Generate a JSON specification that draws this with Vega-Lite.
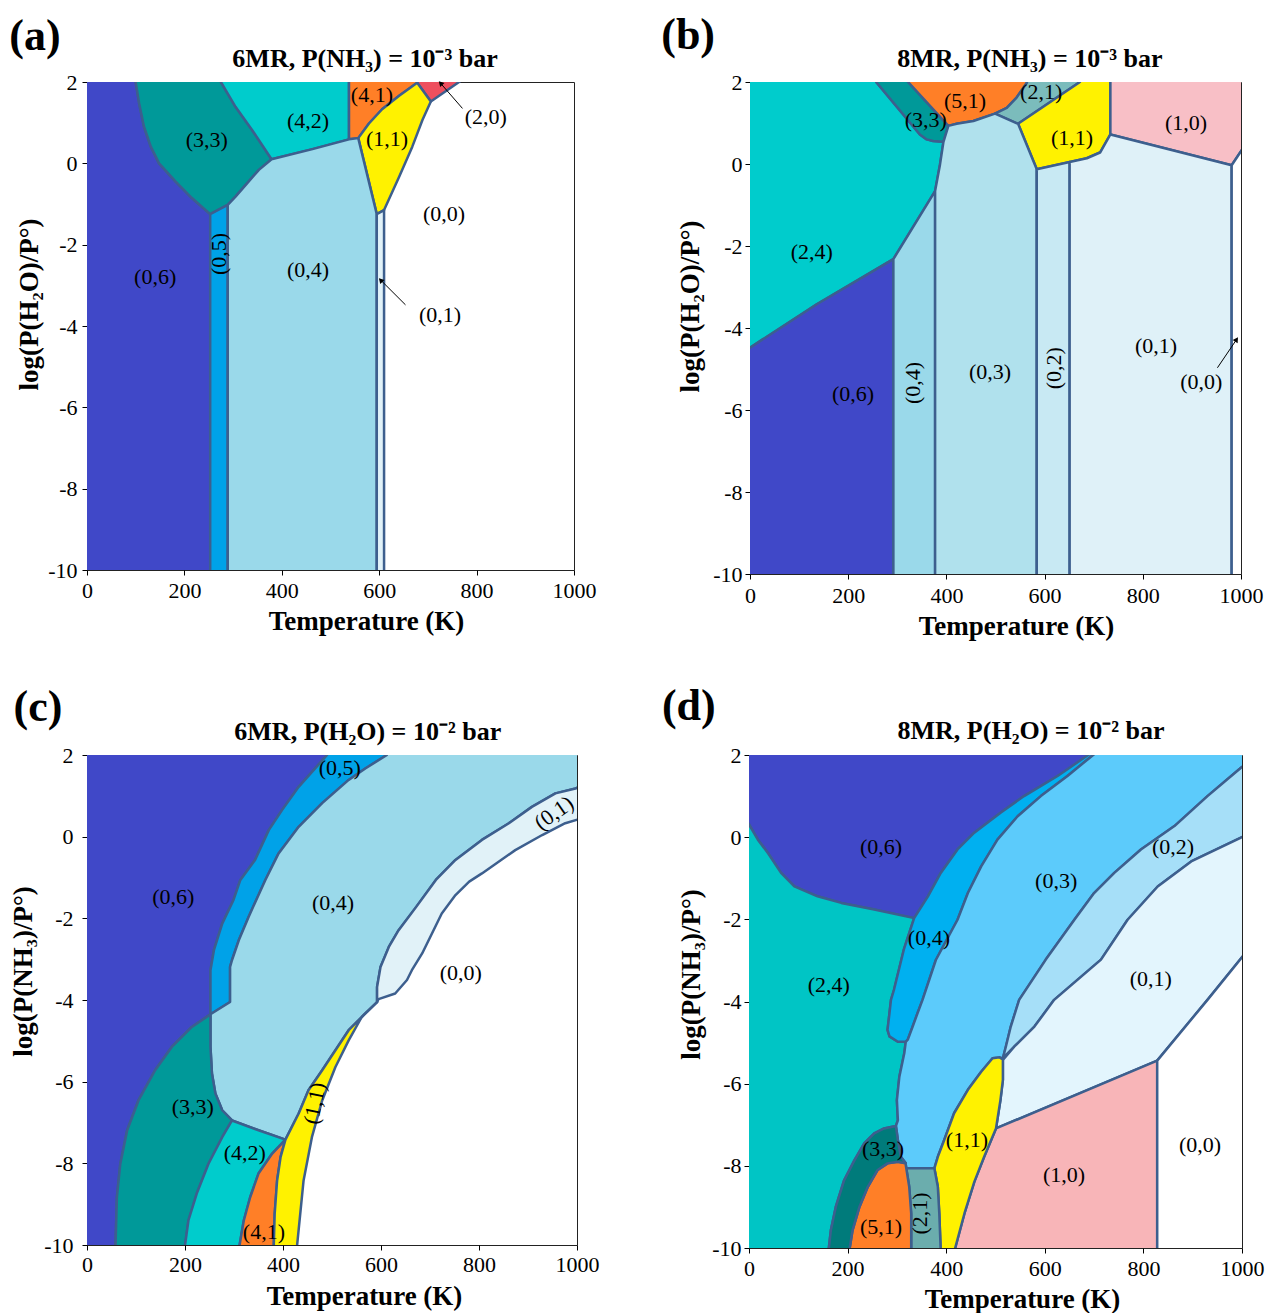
{
"$schema":"https://vega.github.io/schema/vega-lite/v6.json",
"padding":{"left":8,"top":13,"right":5,"bottom":0},
"config":{"font":"Liberation Serif","view":{"stroke":"#222","strokeWidth":1},
"axis":{"labelFont":"Liberation Serif","labelFontSize":22,"labelColor":"#000","titleFont":"Liberation Serif","titleFontSize":27,"titleFontWeight":"bold","titleColor":"#000","grid":false,"domain":false,"tickColor":"#000","tickSize":5,"labelFlush":false,"labelOverlap":false},
"text":{"font":"Liberation Serif","color":"#000"}},
"datasets":{
"pa":[
{"ph":"(0,6)","x":-5,"y":2.1},{"ph":"(0,6)","x":100,"y":2.1},{"ph":"(0,6)","x":100,"y":1.99},{"ph":"(0,6)","x":107,"y":1.48},{"ph":"(0,6)","x":117,"y":0.9},{"ph":"(0,6)","x":131,"y":0.41},{"ph":"(0,6)","x":148,"y":0},{"ph":"(0,6)","x":182,"y":-0.45},{"ph":"(0,6)","x":216,"y":-0.86},{"ph":"(0,6)","x":253,"y":-1.25},{"ph":"(0,6)","x":253,"y":-10.1},{"ph":"(0,6)","x":-5,"y":-10.1},
{"ph":"(3,3)","x":100,"y":2.1},{"ph":"(3,3)","x":275,"y":2.1},{"ph":"(3,3)","x":275,"y":2},{"ph":"(3,3)","x":305,"y":1.39},{"ph":"(3,3)","x":339,"y":0.82},{"ph":"(3,3)","x":379,"y":0.1},{"ph":"(3,3)","x":353,"y":-0.16},{"ph":"(3,3)","x":326,"y":-0.53},{"ph":"(3,3)","x":305,"y":-0.82},{"ph":"(3,3)","x":289,"y":-1.02},{"ph":"(3,3)","x":253,"y":-1.25},{"ph":"(3,3)","x":216,"y":-0.86},{"ph":"(3,3)","x":182,"y":-0.45},{"ph":"(3,3)","x":148,"y":0},{"ph":"(3,3)","x":131,"y":0.41},{"ph":"(3,3)","x":117,"y":0.9},{"ph":"(3,3)","x":107,"y":1.48},{"ph":"(3,3)","x":100,"y":1.99},
{"ph":"(4,2)","x":275,"y":2.1},{"ph":"(4,2)","x":538,"y":2.1},{"ph":"(4,2)","x":538,"y":0.59},{"ph":"(4,2)","x":463,"y":0.35},{"ph":"(4,2)","x":379,"y":0.1},{"ph":"(4,2)","x":339,"y":0.82},{"ph":"(4,2)","x":305,"y":1.39},{"ph":"(4,2)","x":275,"y":2},
{"ph":"(4,1)","x":538,"y":2.1},{"ph":"(4,1)","x":681,"y":2.1},{"ph":"(4,1)","x":678,"y":1.98},{"ph":"(4,1)","x":641,"y":1.66},{"ph":"(4,1)","x":606,"y":1.33},{"ph":"(4,1)","x":579,"y":0.98},{"ph":"(4,1)","x":557,"y":0.62},{"ph":"(4,1)","x":538,"y":0.59},
{"ph":"(2,0)","x":681,"y":2.1},{"ph":"(2,0)","x":776,"y":2.1},{"ph":"(2,0)","x":764,"y":2},{"ph":"(2,0)","x":706,"y":1.52},{"ph":"(2,0)","x":678,"y":1.98},
{"ph":"(1,1)","x":557,"y":0.62},{"ph":"(1,1)","x":579,"y":0.98},{"ph":"(1,1)","x":606,"y":1.33},{"ph":"(1,1)","x":641,"y":1.66},{"ph":"(1,1)","x":678,"y":1.98},{"ph":"(1,1)","x":706,"y":1.52},{"ph":"(1,1)","x":689,"y":1.07},{"ph":"(1,1)","x":668,"y":0.41},{"ph":"(1,1)","x":641,"y":-0.33},{"ph":"(1,1)","x":610,"y":-1.15},{"ph":"(1,1)","x":595,"y":-1.25},
{"ph":"(0,5)","x":253,"y":-1.25},{"ph":"(0,5)","x":289,"y":-1.02},{"ph":"(0,5)","x":289,"y":-10.1},{"ph":"(0,5)","x":253,"y":-10.1},
{"ph":"(0,4)","x":289,"y":-1.02},{"ph":"(0,4)","x":305,"y":-0.82},{"ph":"(0,4)","x":326,"y":-0.53},{"ph":"(0,4)","x":353,"y":-0.16},{"ph":"(0,4)","x":379,"y":0.1},{"ph":"(0,4)","x":463,"y":0.35},{"ph":"(0,4)","x":538,"y":0.59},{"ph":"(0,4)","x":557,"y":0.62},{"ph":"(0,4)","x":595,"y":-1.25},{"ph":"(0,4)","x":595,"y":-10.1},{"ph":"(0,4)","x":289,"y":-10.1},
{"ph":"(0,1)","x":595,"y":-10.1},{"ph":"(0,1)","x":595,"y":-1.25},{"ph":"(0,1)","x":610,"y":-1.15},{"ph":"(0,1)","x":610,"y":-10.1}
],
"pb":[
{"ph":"(2,4)","x":-5,"y":2.1},{"ph":"(2,4)","x":257,"y":2.1},{"ph":"(2,4)","x":257,"y":2},{"ph":"(2,4)","x":346,"y":0.72},{"ph":"(2,4)","x":360,"y":0.6},{"ph":"(2,4)","x":373,"y":0.56},{"ph":"(2,4)","x":394,"y":0.54},{"ph":"(2,4)","x":387,"y":-0.01},{"ph":"(2,4)","x":377,"y":-0.66},{"ph":"(2,4)","x":292,"y":-2.32},{"ph":"(2,4)","x":136,"y":-3.42},{"ph":"(2,4)","x":0,"y":-4.48},{"ph":"(2,4)","x":-5,"y":-4.52},
{"ph":"(3,3)","x":257,"y":2.1},{"ph":"(3,3)","x":322,"y":2.1},{"ph":"(3,3)","x":322,"y":2},{"ph":"(3,3)","x":404,"y":0.93},{"ph":"(3,3)","x":394,"y":0.54},{"ph":"(3,3)","x":373,"y":0.56},{"ph":"(3,3)","x":360,"y":0.6},{"ph":"(3,3)","x":346,"y":0.72},{"ph":"(3,3)","x":257,"y":2},
{"ph":"(5,1)","x":322,"y":2.1},{"ph":"(5,1)","x":564,"y":2.1},{"ph":"(5,1)","x":564,"y":1.98},{"ph":"(5,1)","x":543,"y":1.62},{"ph":"(5,1)","x":523,"y":1.37},{"ph":"(5,1)","x":499,"y":1.23},{"ph":"(5,1)","x":455,"y":1.05},{"ph":"(5,1)","x":421,"y":0.98},{"ph":"(5,1)","x":404,"y":0.93},{"ph":"(5,1)","x":322,"y":2},
{"ph":"(2,1)","x":564,"y":2.1},{"ph":"(2,1)","x":672,"y":2.1},{"ph":"(2,1)","x":672,"y":2},{"ph":"(2,1)","x":546,"y":0.98},{"ph":"(2,1)","x":499,"y":1.23},{"ph":"(2,1)","x":523,"y":1.37},{"ph":"(2,1)","x":543,"y":1.62},{"ph":"(2,1)","x":564,"y":1.98},
{"ph":"(1,1)","x":672,"y":2.1},{"ph":"(1,1)","x":734,"y":2.1},{"ph":"(1,1)","x":734,"y":0.72},{"ph":"(1,1)","x":713,"y":0.28},{"ph":"(1,1)","x":686,"y":0.14},{"ph":"(1,1)","x":652,"y":0.05},{"ph":"(1,1)","x":584,"y":-0.13},{"ph":"(1,1)","x":546,"y":0.98},{"ph":"(1,1)","x":672,"y":2},
{"ph":"(1,0)","x":734,"y":2.1},{"ph":"(1,0)","x":1005,"y":2.1},{"ph":"(1,0)","x":1005,"y":0.4},{"ph":"(1,0)","x":981,"y":-0.03},{"ph":"(1,0)","x":734,"y":0.72},
{"ph":"(0,6)","x":-5,"y":-4.52},{"ph":"(0,6)","x":0,"y":-4.48},{"ph":"(0,6)","x":136,"y":-3.42},{"ph":"(0,6)","x":292,"y":-2.32},{"ph":"(0,6)","x":292,"y":-10.1},{"ph":"(0,6)","x":-5,"y":-10.1},
{"ph":"(0,4)","x":292,"y":-10.1},{"ph":"(0,4)","x":292,"y":-2.32},{"ph":"(0,4)","x":377,"y":-0.66},{"ph":"(0,4)","x":377,"y":-10.1},
{"ph":"(0,3)","x":377,"y":-10.1},{"ph":"(0,3)","x":377,"y":-0.66},{"ph":"(0,3)","x":387,"y":-0.01},{"ph":"(0,3)","x":394,"y":0.54},{"ph":"(0,3)","x":404,"y":0.93},{"ph":"(0,3)","x":421,"y":0.98},{"ph":"(0,3)","x":455,"y":1.05},{"ph":"(0,3)","x":499,"y":1.23},{"ph":"(0,3)","x":546,"y":0.98},{"ph":"(0,3)","x":584,"y":-0.13},{"ph":"(0,3)","x":584,"y":-10.1},
{"ph":"(0,2)","x":584,"y":-10.1},{"ph":"(0,2)","x":584,"y":-0.13},{"ph":"(0,2)","x":651,"y":0.05},{"ph":"(0,2)","x":651,"y":-10.1},
{"ph":"(0,1)","x":651,"y":-10.1},{"ph":"(0,1)","x":651,"y":0.05},{"ph":"(0,1)","x":686,"y":0.14},{"ph":"(0,1)","x":713,"y":0.28},{"ph":"(0,1)","x":734,"y":0.72},{"ph":"(0,1)","x":981,"y":-0.03},{"ph":"(0,1)","x":981,"y":-10.1},
{"ph":"(0,0)","x":981,"y":-10.1},{"ph":"(0,0)","x":981,"y":-0.03},{"ph":"(0,0)","x":1005,"y":0.4},{"ph":"(0,0)","x":1005,"y":-10.1}
],
"pc":[
{"ph":"(0,6)","x":-5,"y":2.1},{"ph":"(0,6)","x":490,"y":2.1},{"ph":"(0,6)","x":490,"y":2},{"ph":"(0,6)","x":432,"y":1.22},{"ph":"(0,6)","x":398,"y":0.65},{"ph":"(0,6)","x":371,"y":0.16},{"ph":"(0,6)","x":343,"y":-0.57},{"ph":"(0,6)","x":313,"y":-1.06},{"ph":"(0,6)","x":299,"y":-1.55},{"ph":"(0,6)","x":276,"y":-2.13},{"ph":"(0,6)","x":259,"y":-2.78},{"ph":"(0,6)","x":252,"y":-3.27},{"ph":"(0,6)","x":252,"y":-4.35},{"ph":"(0,6)","x":214,"y":-4.66},{"ph":"(0,6)","x":173,"y":-5.15},{"ph":"(0,6)","x":139,"y":-5.72},{"ph":"(0,6)","x":105,"y":-6.46},{"ph":"(0,6)","x":82,"y":-7.19},{"ph":"(0,6)","x":68,"y":-8.01},{"ph":"(0,6)","x":61,"y":-8.83},{"ph":"(0,6)","x":58,"y":-10.1},{"ph":"(0,6)","x":-5,"y":-10.1},
{"ph":"(0,5)","x":490,"y":2.1},{"ph":"(0,5)","x":612,"y":2.1},{"ph":"(0,5)","x":612,"y":2},{"ph":"(0,5)","x":568,"y":1.67},{"ph":"(0,5)","x":534,"y":1.39},{"ph":"(0,5)","x":480,"y":0.82},{"ph":"(0,5)","x":432,"y":0.24},{"ph":"(0,5)","x":391,"y":-0.41},{"ph":"(0,5)","x":364,"y":-1.06},{"ph":"(0,5)","x":330,"y":-1.96},{"ph":"(0,5)","x":310,"y":-2.53},{"ph":"(0,5)","x":296,"y":-3.02},{"ph":"(0,5)","x":292,"y":-3.19},{"ph":"(0,5)","x":292,"y":-4.05},{"ph":"(0,5)","x":252,"y":-4.35},{"ph":"(0,5)","x":252,"y":-3.27},{"ph":"(0,5)","x":259,"y":-2.78},{"ph":"(0,5)","x":276,"y":-2.13},{"ph":"(0,5)","x":299,"y":-1.55},{"ph":"(0,5)","x":313,"y":-1.06},{"ph":"(0,5)","x":343,"y":-0.57},{"ph":"(0,5)","x":371,"y":0.16},{"ph":"(0,5)","x":398,"y":0.65},{"ph":"(0,5)","x":432,"y":1.22},{"ph":"(0,5)","x":490,"y":2},
{"ph":"(0,4)","x":612,"y":2.1},{"ph":"(0,4)","x":1005,"y":2.1},{"ph":"(0,4)","x":1005,"y":1.22},{"ph":"(0,4)","x":997,"y":1.18},{"ph":"(0,4)","x":956,"y":1.06},{"ph":"(0,4)","x":908,"y":0.73},{"ph":"(0,4)","x":861,"y":0.33},{"ph":"(0,4)","x":806,"y":-0.08},{"ph":"(0,4)","x":752,"y":-0.57},{"ph":"(0,4)","x":712,"y":-1.06},{"ph":"(0,4)","x":670,"y":-1.75},{"ph":"(0,4)","x":636,"y":-2.29},{"ph":"(0,4)","x":616,"y":-2.7},{"ph":"(0,4)","x":599,"y":-3.19},{"ph":"(0,4)","x":592,"y":-3.68},{"ph":"(0,4)","x":592,"y":-4.05},{"ph":"(0,4)","x":568,"y":-4.33},{"ph":"(0,4)","x":534,"y":-4.74},{"ph":"(0,4)","x":507,"y":-5.23},{"ph":"(0,4)","x":480,"y":-5.72},{"ph":"(0,4)","x":452,"y":-6.21},{"ph":"(0,4)","x":432,"y":-6.78},{"ph":"(0,4)","x":405,"y":-7.42},{"ph":"(0,4)","x":350,"y":-7.19},{"ph":"(0,4)","x":296,"y":-6.95},{"ph":"(0,4)","x":276,"y":-6.7},{"ph":"(0,4)","x":262,"y":-6.29},{"ph":"(0,4)","x":255,"y":-5.8},{"ph":"(0,4)","x":252,"y":-5.15},{"ph":"(0,4)","x":252,"y":-4.35},{"ph":"(0,4)","x":292,"y":-4.05},{"ph":"(0,4)","x":292,"y":-3.19},{"ph":"(0,4)","x":296,"y":-3.02},{"ph":"(0,4)","x":310,"y":-2.53},{"ph":"(0,4)","x":330,"y":-1.96},{"ph":"(0,4)","x":364,"y":-1.06},{"ph":"(0,4)","x":391,"y":-0.41},{"ph":"(0,4)","x":432,"y":0.24},{"ph":"(0,4)","x":480,"y":0.82},{"ph":"(0,4)","x":534,"y":1.39},{"ph":"(0,4)","x":568,"y":1.67},{"ph":"(0,4)","x":612,"y":2},
{"ph":"(0,1)","x":1005,"y":1.22},{"ph":"(0,1)","x":997,"y":1.18},{"ph":"(0,1)","x":956,"y":1.06},{"ph":"(0,1)","x":908,"y":0.73},{"ph":"(0,1)","x":861,"y":0.33},{"ph":"(0,1)","x":806,"y":-0.08},{"ph":"(0,1)","x":752,"y":-0.57},{"ph":"(0,1)","x":712,"y":-1.06},{"ph":"(0,1)","x":670,"y":-1.75},{"ph":"(0,1)","x":636,"y":-2.29},{"ph":"(0,1)","x":616,"y":-2.7},{"ph":"(0,1)","x":599,"y":-3.19},{"ph":"(0,1)","x":592,"y":-3.68},{"ph":"(0,1)","x":592,"y":-4.05},{"ph":"(0,1)","x":595,"y":-3.98},{"ph":"(0,1)","x":629,"y":-3.84},{"ph":"(0,1)","x":653,"y":-3.51},{"ph":"(0,1)","x":663,"y":-3.27},{"ph":"(0,1)","x":684,"y":-2.86},{"ph":"(0,1)","x":704,"y":-2.37},{"ph":"(0,1)","x":724,"y":-1.88},{"ph":"(0,1)","x":752,"y":-1.43},{"ph":"(0,1)","x":780,"y":-1.1},{"ph":"(0,1)","x":806,"y":-0.9},{"ph":"(0,1)","x":874,"y":-0.33},{"ph":"(0,1)","x":929,"y":0.04},{"ph":"(0,1)","x":976,"y":0.33},{"ph":"(0,1)","x":1005,"y":0.43},
{"ph":"(3,3)","x":252,"y":-4.35},{"ph":"(3,3)","x":252,"y":-5.15},{"ph":"(3,3)","x":255,"y":-5.8},{"ph":"(3,3)","x":262,"y":-6.29},{"ph":"(3,3)","x":276,"y":-6.7},{"ph":"(3,3)","x":296,"y":-6.95},{"ph":"(3,3)","x":276,"y":-7.36},{"ph":"(3,3)","x":248,"y":-8.01},{"ph":"(3,3)","x":224,"y":-8.74},{"ph":"(3,3)","x":207,"y":-9.4},{"ph":"(3,3)","x":199,"y":-10.1},{"ph":"(3,3)","x":58,"y":-10.1},{"ph":"(3,3)","x":61,"y":-8.83},{"ph":"(3,3)","x":68,"y":-8.01},{"ph":"(3,3)","x":82,"y":-7.19},{"ph":"(3,3)","x":105,"y":-6.46},{"ph":"(3,3)","x":139,"y":-5.72},{"ph":"(3,3)","x":173,"y":-5.15},{"ph":"(3,3)","x":214,"y":-4.66},
{"ph":"(4,2)","x":296,"y":-6.95},{"ph":"(4,2)","x":350,"y":-7.19},{"ph":"(4,2)","x":405,"y":-7.42},{"ph":"(4,2)","x":378,"y":-7.76},{"ph":"(4,2)","x":350,"y":-8.25},{"ph":"(4,2)","x":333,"y":-8.83},{"ph":"(4,2)","x":320,"y":-9.4},{"ph":"(4,2)","x":310,"y":-10.1},{"ph":"(4,2)","x":199,"y":-10.1},{"ph":"(4,2)","x":207,"y":-9.4},{"ph":"(4,2)","x":224,"y":-8.74},{"ph":"(4,2)","x":248,"y":-8.01},{"ph":"(4,2)","x":276,"y":-7.36},
{"ph":"(4,1)","x":405,"y":-7.42},{"ph":"(4,1)","x":395,"y":-7.85},{"ph":"(4,1)","x":388,"y":-8.42},{"ph":"(4,1)","x":383,"y":-9.24},{"ph":"(4,1)","x":381,"y":-10.1},{"ph":"(4,1)","x":310,"y":-10.1},{"ph":"(4,1)","x":320,"y":-9.4},{"ph":"(4,1)","x":333,"y":-8.83},{"ph":"(4,1)","x":350,"y":-8.25},{"ph":"(4,1)","x":378,"y":-7.76},
{"ph":"(1,1)","x":405,"y":-7.42},{"ph":"(1,1)","x":432,"y":-6.78},{"ph":"(1,1)","x":452,"y":-6.21},{"ph":"(1,1)","x":480,"y":-5.72},{"ph":"(1,1)","x":507,"y":-5.23},{"ph":"(1,1)","x":534,"y":-4.74},{"ph":"(1,1)","x":568,"y":-4.33},{"ph":"(1,1)","x":592,"y":-4.05},{"ph":"(1,1)","x":561,"y":-4.41},{"ph":"(1,1)","x":534,"y":-4.99},{"ph":"(1,1)","x":507,"y":-5.64},{"ph":"(1,1)","x":480,"y":-6.46},{"ph":"(1,1)","x":459,"y":-7.36},{"ph":"(1,1)","x":442,"y":-8.42},{"ph":"(1,1)","x":428,"y":-10.1},{"ph":"(1,1)","x":381,"y":-10.1},{"ph":"(1,1)","x":383,"y":-9.24},{"ph":"(1,1)","x":388,"y":-8.42},{"ph":"(1,1)","x":395,"y":-7.85}
],
"pd":[
{"ph":"(0,6)","x":-5,"y":2.1},{"ph":"(0,6)","x":700,"y":2.1},{"ph":"(0,6)","x":700,"y":2.02},{"ph":"(0,6)","x":626,"y":1.49},{"ph":"(0,6)","x":558,"y":1.0},{"ph":"(0,6)","x":511,"y":0.6},{"ph":"(0,6)","x":457,"y":0.11},{"ph":"(0,6)","x":423,"y":-0.3},{"ph":"(0,6)","x":389,"y":-0.87},{"ph":"(0,6)","x":363,"y":-1.44},{"ph":"(0,6)","x":335,"y":-1.97},{"ph":"(0,6)","x":254,"y":-1.76},{"ph":"(0,6)","x":187,"y":-1.6},{"ph":"(0,6)","x":139,"y":-1.44},{"ph":"(0,6)","x":92,"y":-1.2},{"ph":"(0,6)","x":65,"y":-0.87},{"ph":"(0,6)","x":38,"y":-0.38},{"ph":"(0,6)","x":18,"y":-0.06},{"ph":"(0,6)","x":0,"y":0.31},{"ph":"(0,6)","x":-5,"y":0.4},
{"ph":"(2,4)","x":-5,"y":0.4},{"ph":"(2,4)","x":0,"y":0.31},{"ph":"(2,4)","x":18,"y":-0.06},{"ph":"(2,4)","x":38,"y":-0.38},{"ph":"(2,4)","x":65,"y":-0.87},{"ph":"(2,4)","x":92,"y":-1.2},{"ph":"(2,4)","x":139,"y":-1.44},{"ph":"(2,4)","x":187,"y":-1.6},{"ph":"(2,4)","x":254,"y":-1.76},{"ph":"(2,4)","x":335,"y":-1.97},{"ph":"(2,4)","x":314,"y":-2.74},{"ph":"(2,4)","x":294,"y":-3.72},{"ph":"(2,4)","x":288,"y":-3.96},{"ph":"(2,4)","x":285,"y":-4.28},{"ph":"(2,4)","x":281,"y":-4.69},{"ph":"(2,4)","x":285,"y":-4.85},{"ph":"(2,4)","x":302,"y":-4.98},{"ph":"(2,4)","x":318,"y":-4.98},{"ph":"(2,4)","x":315,"y":-5.26},{"ph":"(2,4)","x":305,"y":-5.83},{"ph":"(2,4)","x":300,"y":-6.4},{"ph":"(2,4)","x":302,"y":-6.89},{"ph":"(2,4)","x":298,"y":-7.03},{"ph":"(2,4)","x":274,"y":-7.09},{"ph":"(2,4)","x":254,"y":-7.21},{"ph":"(2,4)","x":234,"y":-7.45},{"ph":"(2,4)","x":214,"y":-7.86},{"ph":"(2,4)","x":193,"y":-8.35},{"ph":"(2,4)","x":176,"y":-9.0},{"ph":"(2,4)","x":166,"y":-9.57},{"ph":"(2,4)","x":161,"y":-10.1},{"ph":"(2,4)","x":-5,"y":-10.1},
{"ph":"(0,4)","x":700,"y":2.1},{"ph":"(0,4)","x":626,"y":1.49},{"ph":"(0,4)","x":558,"y":1.0},{"ph":"(0,4)","x":511,"y":0.6},{"ph":"(0,4)","x":457,"y":0.11},{"ph":"(0,4)","x":423,"y":-0.3},{"ph":"(0,4)","x":389,"y":-0.87},{"ph":"(0,4)","x":363,"y":-1.44},{"ph":"(0,4)","x":335,"y":-1.97},{"ph":"(0,4)","x":314,"y":-2.74},{"ph":"(0,4)","x":294,"y":-3.72},{"ph":"(0,4)","x":288,"y":-3.96},{"ph":"(0,4)","x":285,"y":-4.28},{"ph":"(0,4)","x":281,"y":-4.69},{"ph":"(0,4)","x":285,"y":-4.85},{"ph":"(0,4)","x":302,"y":-4.98},{"ph":"(0,4)","x":318,"y":-4.98},{"ph":"(0,4)","x":322,"y":-4.93},{"ph":"(0,4)","x":332,"y":-4.61},{"ph":"(0,4)","x":342,"y":-4.28},{"ph":"(0,4)","x":352,"y":-3.96},{"ph":"(0,4)","x":379,"y":-2.99},{"ph":"(0,4)","x":423,"y":-2.01},{"ph":"(0,4)","x":444,"y":-1.36},{"ph":"(0,4)","x":471,"y":-0.71},{"ph":"(0,4)","x":504,"y":-0.06},{"ph":"(0,4)","x":545,"y":0.51},{"ph":"(0,4)","x":592,"y":1.0},{"ph":"(0,4)","x":646,"y":1.49},{"ph":"(0,4)","x":700,"y":2.02},
{"ph":"(0,3)","x":700,"y":2.1},{"ph":"(0,3)","x":1005,"y":2.1},{"ph":"(0,3)","x":1005,"y":1.75},{"ph":"(0,3)","x":998,"y":1.69},{"ph":"(0,3)","x":930,"y":1.0},{"ph":"(0,3)","x":863,"y":0.27},{"ph":"(0,3)","x":795,"y":-0.3},{"ph":"(0,3)","x":741,"y":-0.87},{"ph":"(0,3)","x":700,"y":-1.36},{"ph":"(0,3)","x":660,"y":-2.01},{"ph":"(0,3)","x":602,"y":-2.98},{"ph":"(0,3)","x":548,"y":-3.96},{"ph":"(0,3)","x":531,"y":-4.61},{"ph":"(0,3)","x":521,"y":-5.1},{"ph":"(0,3)","x":515,"y":-5.38},{"ph":"(0,3)","x":508,"y":-5.36},{"ph":"(0,3)","x":494,"y":-5.38},{"ph":"(0,3)","x":471,"y":-5.71},{"ph":"(0,3)","x":444,"y":-6.15},{"ph":"(0,3)","x":416,"y":-6.72},{"ph":"(0,3)","x":396,"y":-7.37},{"ph":"(0,3)","x":383,"y":-7.78},{"ph":"(0,3)","x":376,"y":-8.06},{"ph":"(0,3)","x":318,"y":-8.06},{"ph":"(0,3)","x":318,"y":-7.94},{"ph":"(0,3)","x":308,"y":-7.78},{"ph":"(0,3)","x":302,"y":-7.37},{"ph":"(0,3)","x":298,"y":-7.03},{"ph":"(0,3)","x":302,"y":-6.89},{"ph":"(0,3)","x":300,"y":-6.4},{"ph":"(0,3)","x":305,"y":-5.83},{"ph":"(0,3)","x":315,"y":-5.26},{"ph":"(0,3)","x":318,"y":-4.98},{"ph":"(0,3)","x":322,"y":-4.93},{"ph":"(0,3)","x":332,"y":-4.61},{"ph":"(0,3)","x":342,"y":-4.28},{"ph":"(0,3)","x":352,"y":-3.96},{"ph":"(0,3)","x":379,"y":-2.99},{"ph":"(0,3)","x":423,"y":-2.01},{"ph":"(0,3)","x":444,"y":-1.36},{"ph":"(0,3)","x":471,"y":-0.71},{"ph":"(0,3)","x":504,"y":-0.06},{"ph":"(0,3)","x":545,"y":0.51},{"ph":"(0,3)","x":592,"y":1.0},{"ph":"(0,3)","x":646,"y":1.49},{"ph":"(0,3)","x":700,"y":2.02},
{"ph":"(0,2)","x":998,"y":1.69},{"ph":"(0,2)","x":1005,"y":1.75},{"ph":"(0,2)","x":1005,"y":0.03},{"ph":"(0,2)","x":998,"y":-0.01},{"ph":"(0,2)","x":897,"y":-0.59},{"ph":"(0,2)","x":829,"y":-1.2},{"ph":"(0,2)","x":768,"y":-2.01},{"ph":"(0,2)","x":714,"y":-2.98},{"ph":"(0,2)","x":619,"y":-3.96},{"ph":"(0,2)","x":579,"y":-4.61},{"ph":"(0,2)","x":538,"y":-5.1},{"ph":"(0,2)","x":515,"y":-5.38},{"ph":"(0,2)","x":521,"y":-5.1},{"ph":"(0,2)","x":531,"y":-4.61},{"ph":"(0,2)","x":548,"y":-3.96},{"ph":"(0,2)","x":602,"y":-2.98},{"ph":"(0,2)","x":660,"y":-2.01},{"ph":"(0,2)","x":700,"y":-1.36},{"ph":"(0,2)","x":741,"y":-0.87},{"ph":"(0,2)","x":795,"y":-0.3},{"ph":"(0,2)","x":863,"y":0.27},{"ph":"(0,2)","x":930,"y":1.0},
{"ph":"(0,1)","x":515,"y":-5.42},{"ph":"(0,1)","x":538,"y":-5.1},{"ph":"(0,1)","x":579,"y":-4.61},{"ph":"(0,1)","x":619,"y":-3.96},{"ph":"(0,1)","x":714,"y":-2.98},{"ph":"(0,1)","x":768,"y":-2.01},{"ph":"(0,1)","x":829,"y":-1.2},{"ph":"(0,1)","x":897,"y":-0.59},{"ph":"(0,1)","x":998,"y":-0.01},{"ph":"(0,1)","x":1005,"y":0.03},{"ph":"(0,1)","x":1005,"y":-2.85},{"ph":"(0,1)","x":930,"y":-3.96},{"ph":"(0,1)","x":828,"y":-5.44},{"ph":"(0,1)","x":501,"y":-7.09},{"ph":"(0,1)","x":510,"y":-6.4},{"ph":"(0,1)","x":515,"y":-5.91},
{"ph":"(1,0)","x":501,"y":-7.09},{"ph":"(1,0)","x":828,"y":-5.44},{"ph":"(1,0)","x":828,"y":-10.1},{"ph":"(1,0)","x":416,"y":-10.1},{"ph":"(1,0)","x":437,"y":-9.16},{"ph":"(1,0)","x":457,"y":-8.39},{"ph":"(1,0)","x":477,"y":-7.78},
{"ph":"(0,0)","x":828,"y":-10.1},{"ph":"(0,0)","x":828,"y":-5.44},{"ph":"(0,0)","x":930,"y":-3.96},{"ph":"(0,0)","x":1005,"y":-2.85},{"ph":"(0,0)","x":1005,"y":-10.1},
{"ph":"(1,1)","x":376,"y":-8.06},{"ph":"(1,1)","x":383,"y":-7.78},{"ph":"(1,1)","x":396,"y":-7.37},{"ph":"(1,1)","x":416,"y":-6.72},{"ph":"(1,1)","x":444,"y":-6.15},{"ph":"(1,1)","x":471,"y":-5.71},{"ph":"(1,1)","x":494,"y":-5.38},{"ph":"(1,1)","x":508,"y":-5.36},{"ph":"(1,1)","x":515,"y":-5.41},{"ph":"(1,1)","x":515,"y":-5.91},{"ph":"(1,1)","x":510,"y":-6.4},{"ph":"(1,1)","x":501,"y":-7.09},{"ph":"(1,1)","x":477,"y":-7.78},{"ph":"(1,1)","x":457,"y":-8.39},{"ph":"(1,1)","x":437,"y":-9.16},{"ph":"(1,1)","x":416,"y":-10.1},{"ph":"(1,1)","x":389,"y":-10.1},{"ph":"(1,1)","x":386,"y":-9.16},{"ph":"(1,1)","x":383,"y":-8.51},
{"ph":"(2,1)","x":318,"y":-8.06},{"ph":"(2,1)","x":376,"y":-8.06},{"ph":"(2,1)","x":383,"y":-8.51},{"ph":"(2,1)","x":386,"y":-9.16},{"ph":"(2,1)","x":389,"y":-10.1},{"ph":"(2,1)","x":329,"y":-10.1},{"ph":"(2,1)","x":329,"y":-9.16},{"ph":"(2,1)","x":325,"y":-8.51},{"ph":"(2,1)","x":318,"y":-7.98},
{"ph":"(5,1)","x":318,"y":-7.98},{"ph":"(5,1)","x":325,"y":-8.51},{"ph":"(5,1)","x":329,"y":-9.16},{"ph":"(5,1)","x":329,"y":-10.1},{"ph":"(5,1)","x":203,"y":-10.1},{"ph":"(5,1)","x":210,"y":-9.57},{"ph":"(5,1)","x":224,"y":-9.0},{"ph":"(5,1)","x":241,"y":-8.51},{"ph":"(5,1)","x":261,"y":-8.1},{"ph":"(5,1)","x":281,"y":-7.94},{"ph":"(5,1)","x":302,"y":-7.9},{"ph":"(5,1)","x":318,"y":-7.94},
{"ph":"(3,3)","x":298,"y":-7.03},{"ph":"(3,3)","x":302,"y":-7.37},{"ph":"(3,3)","x":308,"y":-7.78},{"ph":"(3,3)","x":318,"y":-7.94},{"ph":"(3,3)","x":302,"y":-7.9},{"ph":"(3,3)","x":281,"y":-7.94},{"ph":"(3,3)","x":261,"y":-8.1},{"ph":"(3,3)","x":241,"y":-8.51},{"ph":"(3,3)","x":224,"y":-9.0},{"ph":"(3,3)","x":210,"y":-9.57},{"ph":"(3,3)","x":203,"y":-10.1},{"ph":"(3,3)","x":161,"y":-10.1},{"ph":"(3,3)","x":166,"y":-9.57},{"ph":"(3,3)","x":176,"y":-9.0},{"ph":"(3,3)","x":193,"y":-8.35},{"ph":"(3,3)","x":214,"y":-7.86},{"ph":"(3,3)","x":234,"y":-7.45},{"ph":"(3,3)","x":254,"y":-7.21},{"ph":"(3,3)","x":274,"y":-7.09}
],
"la":[
{"t":"(0,6)","o":"h","x":140,"y":-2.79},{"t":"(3,3)","o":"h","x":246,"y":0.57},{"t":"(4,2)","o":"h","x":454,"y":1.04},{"t":"(4,1)","o":"h","x":585,"y":1.68},{"t":"(1,1)","o":"h","x":616,"y":0.6},{"t":"(2,0)","o":"h","x":819,"y":1.14},{"t":"(0,0)","o":"h","x":733,"y":-1.25},{"t":"(0,4)","o":"h","x":454,"y":-2.62},{"t":"(0,1)","o":"h","x":725,"y":-3.73},{"t":"(0,5)","o":"v","x":271,"y":-2.23},
{"t":"6MR, P(NH₃) = 10⁻³ bar","o":"title","x":571,"y":2.57},{"t":"(a)","o":"tag","x":-107,"y":3.1}
],
"lb":[
{"t":"(2,4)","o":"h","x":126,"y":-2.15},{"t":"(3,3)","o":"h","x":358,"y":1.07},{"t":"(5,1)","o":"h","x":438,"y":1.54},{"t":"(2,1)","o":"h","x":593,"y":1.76},{"t":"(1,1)","o":"h","x":656,"y":0.63},{"t":"(1,0)","o":"h","x":888,"y":1.0},{"t":"(0,6)","o":"h","x":210,"y":-5.61},{"t":"(0,3)","o":"h","x":489,"y":-5.07},{"t":"(0,1)","o":"h","x":827,"y":-4.44},{"t":"(0,0)","o":"h","x":919,"y":-5.32},{"t":"(0,4)","o":"v","x":332,"y":-5.34},{"t":"(0,2)","o":"v","x":619,"y":-4.98},
{"t":"8MR, P(NH₃) = 10⁻³ bar","o":"title","x":570,"y":2.56},{"t":"(b)","o":"tag","x":-126,"y":3.11}
],
"lc":[
{"t":"(0,6)","o":"h","x":176,"y":-1.48},{"t":"(0,5)","o":"h","x":516,"y":1.68},{"t":"(0,4)","o":"h","x":502,"y":-1.63},{"t":"(0,0)","o":"h","x":763,"y":-3.34},{"t":"(3,3)","o":"h","x":216,"y":-6.63},{"t":"(4,2)","o":"h","x":322,"y":-7.75},{"t":"(4,1)","o":"h","x":361,"y":-9.69},{"t":"(0,1)","o":"d1","x":953,"y":0.58},{"t":"(1,1)","o":"d2","x":465,"y":-6.53},
{"t":"6MR, P(H₂O) = 10⁻² bar","o":"title","x":573,"y":2.56},{"t":"(c)","o":"tag","x":-100,"y":3.15}
],
"ld":[
{"t":"(0,6)","o":"h","x":268,"y":-0.23},{"t":"(0,4)","o":"h","x":365,"y":-2.45},{"t":"(0,3)","o":"h","x":623,"y":-1.06},{"t":"(0,2)","o":"h","x":860,"y":-0.25},{"t":"(2,4)","o":"h","x":162,"y":-3.59},{"t":"(0,1)","o":"h","x":815,"y":-3.45},{"t":"(1,1)","o":"h","x":442,"y":-7.38},{"t":"(3,3)","o":"h","x":272,"y":-7.58},{"t":"(1,0)","o":"h","x":639,"y":-8.23},{"t":"(0,0)","o":"h","x":915,"y":-7.5},{"t":"(5,1)","o":"h","x":268,"y":-9.5},{"t":"(2,1)","o":"v","x":347,"y":-9.16},
{"t":"8MR, P(H₂O) = 10⁻² bar","o":"title","x":572,"y":2.58},{"t":"(d)","o":"tag","x":-122,"y":3.16}
],
"aa":[{"n":1,"k":"t","x":654,"y":-3.48},{"n":1,"k":"h","x":603,"y":-2.87},{"n":2,"k":"t","x":771,"y":1.35},{"n":2,"k":"h","x":726,"y":1.97}],
"ab":[{"n":1,"k":"t","x":952,"y":-4.97},{"n":1,"k":"h","x":991,"y":-4.28}]
},
"resolve":{"scale":{"fill":"independent"}},
"spacing":44,
"vconcat":[
{"resolve":{"scale":{"fill":"independent"}},"spacing":63,
"hconcat":[
{"width":487,"height":488,
"encoding":{"x":{"field":"x","type":"quantitative","scale":{"domain":[0,1000],"nice":false,"zero":false},"axis":{"values":[0,200,400,600,800,1000],"labelExpr":"''+datum.value","title":"Temperature (K)","titleX":279,"labelPadding":5,"titlePadding":7}},
"y":{"field":"y","type":"quantitative","scale":{"domain":[-10,2],"nice":false,"zero":false},"axis":{"values":[-10,-8,-6,-4,-2,0,2],"labelExpr":"''+datum.value","title":"log(P(H₂O)/P°)","titleY":222,"labelPadding":5,"titlePadding":4}}},
"layer":[
{"data":{"name":"pa"},"mark":{"type":"line","clip":true,"interpolate":"linear-closed","stroke":"#3d5f8e","strokeWidth":2.5,"strokeJoin":"round"},
"encoding":{"fill":{"field":"ph","type":"nominal","legend":null,"scale":{"domain":["(0,6)","(3,3)","(4,2)","(4,1)","(2,0)","(1,1)","(0,5)","(0,4)","(0,1)"],"range":["#4048c8","#009999","#00cccc","#ff7f27","#ee4f5e","#fff200","#00a2e8","#9ad9ea","#e1f2f8"]}},"order":{"value":null}}},
{"data":{"name":"aa"},"mark":{"type":"line","stroke":"#000","strokeWidth":1},"encoding":{"detail":{"field":"n"},"order":{"value":null}}},
{"data":{"name":"aa"},"transform":[{"filter":"datum.k=='h'"}],"mark":{"type":"point","shape":"triangle-up","filled":true,"color":"#000","size":35,"angle":317,"opacity":1}},
{"data":{"name":"la"},"transform":[{"filter":"datum.o=='h'"}],"mark":{"type":"text","fontSize":22},"encoding":{"text":{"field":"t"}}},
{"data":{"name":"la"},"transform":[{"filter":"datum.o=='v'"}],"mark":{"type":"text","fontSize":22,"angle":270},"encoding":{"text":{"field":"t"}}},
{"data":{"name":"la"},"transform":[{"filter":"datum.o=='title'"}],"mark":{"type":"text","fontSize":26,"fontWeight":"bold"},"encoding":{"text":{"field":"t"}}},
{"data":{"name":"la"},"transform":[{"filter":"datum.o=='tag'"}],"mark":{"type":"text","fontSize":44,"fontWeight":"bold"},"encoding":{"text":{"field":"t"}}}
]},
{"width":491,"height":492,
"encoding":{"x":{"field":"x","type":"quantitative","scale":{"domain":[0,1000],"nice":false,"zero":false},"axis":{"values":[0,200,400,600,800,1000],"labelExpr":"''+datum.value","title":"Temperature (K)","titleX":266,"labelPadding":6,"titlePadding":7}},
"y":{"field":"y","type":"quantitative","scale":{"domain":[-10,2],"nice":false,"zero":false},"axis":{"values":[-10,-8,-6,-4,-2,0,2],"labelExpr":"''+datum.value","title":"log(P(H₂O)/P°)","titleY":224,"labelPadding":3,"titlePadding":8}}},
"layer":[
{"data":{"name":"pb"},"mark":{"type":"line","clip":true,"interpolate":"linear-closed","stroke":"#3d5f8e","strokeWidth":2.5,"strokeJoin":"round"},
"encoding":{"fill":{"field":"ph","type":"nominal","legend":null,"scale":{"domain":["(2,4)","(3,3)","(5,1)","(2,1)","(1,1)","(1,0)","(0,6)","(0,4)","(0,3)","(0,2)","(0,1)","(0,0)"],"range":["#00cccc","#009999","#ff7f27","#7bbcbc","#fff200","#f8bfc6","#4048c8","#9ad9ea","#b0e1ed","#c8e9f3","#dff1f8","#ffffff"]}},"order":{"value":null}}},
{"data":{"name":"ab"},"mark":{"type":"line","stroke":"#000","strokeWidth":1},"encoding":{"detail":{"field":"n"},"order":{"value":null}}},
{"data":{"name":"ab"},"transform":[{"filter":"datum.k=='h'"}],"mark":{"type":"point","shape":"triangle-up","filled":true,"color":"#000","size":35,"angle":34,"opacity":1}},
{"data":{"name":"lb"},"transform":[{"filter":"datum.o=='h'"}],"mark":{"type":"text","fontSize":22},"encoding":{"text":{"field":"t"}}},
{"data":{"name":"lb"},"transform":[{"filter":"datum.o=='v'"}],"mark":{"type":"text","fontSize":22,"angle":270},"encoding":{"text":{"field":"t"}}},
{"data":{"name":"lb"},"transform":[{"filter":"datum.o=='title'"}],"mark":{"type":"text","fontSize":26,"fontWeight":"bold"},"encoding":{"text":{"field":"t"}}},
{"data":{"name":"lb"},"transform":[{"filter":"datum.o=='tag'"}],"mark":{"type":"text","fontSize":44,"fontWeight":"bold"},"encoding":{"text":{"field":"t"}}}
]}
]},
{"resolve":{"scale":{"fill":"independent"}},"spacing":61,
"hconcat":[
{"width":490,"height":490,
"encoding":{"x":{"field":"x","type":"quantitative","scale":{"domain":[0,1000],"nice":false,"zero":false},"axis":{"values":[0,200,400,600,800,1000],"labelExpr":"''+datum.value","title":"Temperature (K)","titleX":277,"labelPadding":4,"titlePadding":8}},
"y":{"field":"y","type":"quantitative","scale":{"domain":[-10,2],"nice":false,"zero":false},"axis":{"values":[-10,-8,-6,-4,-2,0,2],"labelExpr":"''+datum.value","title":"log(P(NH₃)/P°)","titleY":216,"labelPadding":9,"titlePadding":6}}},
"layer":[
{"data":{"name":"pc"},"mark":{"type":"line","clip":true,"interpolate":"linear-closed","stroke":"#3d5f8e","strokeWidth":2.5,"strokeJoin":"round"},
"encoding":{"fill":{"field":"ph","type":"nominal","legend":null,"scale":{"domain":["(0,6)","(0,5)","(0,4)","(0,1)","(3,3)","(4,2)","(4,1)","(1,1)"],"range":["#4048c8","#00a2e8","#9ad9ea","#e1f2f8","#009999","#00cccc","#ff7f27","#fff200"]}},"order":{"value":null}}},
{"data":{"name":"lc"},"transform":[{"filter":"datum.o=='h'"}],"mark":{"type":"text","fontSize":22},"encoding":{"text":{"field":"t"}}},
{"data":{"name":"lc"},"transform":[{"filter":"datum.o=='d1'"}],"mark":{"type":"text","fontSize":22,"angle":325},"encoding":{"text":{"field":"t"}}},
{"data":{"name":"lc"},"transform":[{"filter":"datum.o=='d2'"}],"mark":{"type":"text","fontSize":22,"angle":281},"encoding":{"text":{"field":"t"}}},
{"data":{"name":"lc"},"transform":[{"filter":"datum.o=='title'"}],"mark":{"type":"text","fontSize":26,"fontWeight":"bold"},"encoding":{"text":{"field":"t"}}},
{"data":{"name":"lc"},"transform":[{"filter":"datum.o=='tag'"}],"mark":{"type":"text","fontSize":44,"fontWeight":"bold"},"encoding":{"text":{"field":"t"}}}
]},
{"width":493,"height":493,
"encoding":{"x":{"field":"x","type":"quantitative","scale":{"domain":[0,1000],"nice":false,"zero":false},"axis":{"values":[0,200,400,600,800,1000],"labelExpr":"''+datum.value","title":"Temperature (K)","titleX":273,"labelPadding":5,"titlePadding":7}},
"y":{"field":"y","type":"quantitative","scale":{"domain":[-10,2],"nice":false,"zero":false},"axis":{"values":[-10,-8,-6,-4,-2,0,2],"labelExpr":"''+datum.value","title":"log(P(NH₃)/P°)","titleY":219,"labelPadding":3,"titlePadding":6}}},
"layer":[
{"data":{"name":"pd"},"mark":{"type":"line","clip":true,"interpolate":"linear-closed","stroke":"#3d5f8e","strokeWidth":2.5,"strokeJoin":"round"},
"encoding":{"fill":{"field":"ph","type":"nominal","legend":null,"scale":{"domain":["(0,6)","(2,4)","(0,4)","(0,3)","(0,2)","(0,1)","(1,0)","(0,0)","(1,1)","(2,1)","(5,1)","(3,3)"],"range":["#4048c8","#00c5c5","#00b0f0","#5ccbfb","#a6dff8","#e3f5fd","#f8b5b8","#ffffff","#fff200","#6badad","#ff7f27","#007b7b"]}},"order":{"value":null}}},
{"data":{"name":"ld"},"transform":[{"filter":"datum.o=='h'"}],"mark":{"type":"text","fontSize":22},"encoding":{"text":{"field":"t"}}},
{"data":{"name":"ld"},"transform":[{"filter":"datum.o=='v'"}],"mark":{"type":"text","fontSize":22,"angle":270},"encoding":{"text":{"field":"t"}}},
{"data":{"name":"ld"},"transform":[{"filter":"datum.o=='title'"}],"mark":{"type":"text","fontSize":26,"fontWeight":"bold"},"encoding":{"text":{"field":"t"}}},
{"data":{"name":"ld"},"transform":[{"filter":"datum.o=='tag'"}],"mark":{"type":"text","fontSize":44,"fontWeight":"bold"},"encoding":{"text":{"field":"t"}}}
]}
]}
]
}
